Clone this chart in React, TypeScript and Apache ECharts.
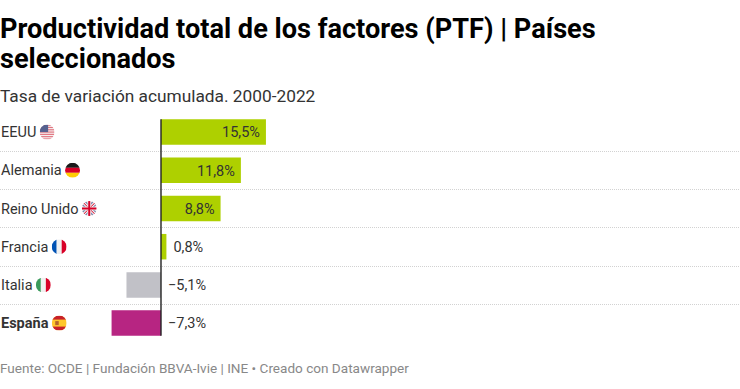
import React, { useEffect, useRef } from "react";
import * as echarts from "echarts";

const titleText = "Productividad total de los factores (PTF) | Países\nseleccionados";
const subtitleText = "Tasa de variación acumulada. 2000-2022";
const footerText = "Fuente: OCDE | Fundación BBVA-Ivie | INE • Creado con Datawrapper";
const categories = ["EEUU", "Alemania", "Reino Unido", "Francia", "Italia", "España"];
const flagKeys = ["us", "de", "uk", "fr", "it", "es"];
const values = [15.5, 11.8, 8.8, 0.8, -5.1, -7.3];
const barColors = ["#aed000", "#aed000", "#aed000", "#aed000", "#c1c1c7", "#b72582"];
const labelsInside = [true, true, true, false, false, false];

const svgUri = (inner: string) =>
  "data:image/svg+xml;charset=utf-8," +
  encodeURIComponent(
    `<svg xmlns="http://www.w3.org/2000/svg" width="60" height="60" viewBox="0 0 30 30"><defs><clipPath id="c"><circle cx="15" cy="15" r="15"/></clipPath></defs><g clip-path="url(#c)">${inner}</g></svg>`
  );

const usStripes = [0, 1, 2, 3, 4, 5, 6]
  .map((i) => `<rect x="0" y="${i * 4.6}" width="30" height="2.3" fill="#e2737f"/>`)
  .join("");

const flags: Record<string, string> = {
  us: svgUri(`<rect width="30" height="30" fill="#f4f0f0"/>${usStripes}<rect width="17" height="15" fill="#56618f"/>`),
  de: svgUri(`<rect width="30" height="10" fill="#1a1a1a"/><rect y="10" width="30" height="10" fill="#d80027"/><rect y="20" width="30" height="10" fill="#ffcd05"/>`),
  uk: svgUri(`<rect width="30" height="30" fill="#f2eeee"/><path d="M0 6L24 30M6 0L30 24M0 24L24 0M6 30L30 6" stroke="#7a86ad" stroke-width="2.5"/><path d="M0 0L30 30M0 30L30 0" stroke="#d80027" stroke-width="2"/><rect x="11.5" width="7" height="30" fill="#f2eeee"/><rect y="11.5" width="30" height="7" fill="#f2eeee"/><rect x="13" width="4" height="30" fill="#d80027"/><rect y="13" width="30" height="4" fill="#d80027"/>`),
  fr: svgUri(`<rect width="10" height="30" fill="#0052b4"/><rect x="10" width="10" height="30" fill="#f0f0f0"/><rect x="20" width="10" height="30" fill="#d80027"/>`),
  it: svgUri(`<rect width="10" height="30" fill="#3a9a5b"/><rect x="10" width="10" height="30" fill="#f0f0f0"/><rect x="20" width="10" height="30" fill="#d80027"/>`),
  es: svgUri(`<rect width="30" height="30" fill="#ffc72c"/><rect width="30" height="8" fill="#c8202a"/><rect y="22" width="30" height="8" fill="#c8202a"/><rect x="7" y="11" width="7" height="8" fill="#b5652a"/>`),
};

const fmt = (v: number) => (v < 0 ? "−" : "") + Math.abs(v).toFixed(1).replace(".", ",") + "%";

const FONT = "Roboto";

export default function App() {
  const ref = useRef<HTMLDivElement>(null);
  useEffect(() => {
    const chart = echarts.init(ref.current!, null, { renderer: "svg" });
    const rich: any = {
      n: { fontFamily: FONT, fontSize: 14.5, color: "#333", padding: [1, 0, 0, 0] },
      b: { fontFamily: FONT, fontSize: 14.5, color: "#333", fontWeight: "bold", padding: [1, 0, 0, 0] },
    };
    flagKeys.forEach((k) => {
      rich[k] = { width: 15, height: 15, backgroundColor: { image: flags[k] } };
    });
    chart.setOption({
      animation: false,
      backgroundColor: "#fff",
      title: [
        { text: titleText, left: 0, top: 14, padding: 0, textStyle: { fontFamily: FONT, fontSize: 27.15, fontWeight: "bold", color: "#000", lineHeight: 30 } },
        { text: subtitleText, left: 0, top: 87, padding: 0, textStyle: { fontFamily: FONT, fontSize: 17.3, fontWeight: "normal", color: "#333" } },
        { text: footerText, left: 0, top: 361, padding: 0, textStyle: { fontFamily: FONT, fontSize: 13.57, fontWeight: "normal", color: "#888" } },
      ],
      grid: { left: 0, width: 740, top: 113, height: 229.2, outerBoundsMode: "none" },
      xAxis: { type: "value", min: -23.78, max: 85.52, show: false },
      yAxis: {
        type: "category",
        inverse: true,
        data: categories,
        axisLine: { show: false },
        axisTick: { show: false },
        splitLine: { show: true, showMinLine: false, showMaxLine: false, lineStyle: { color: "#d2d2d2", type: [1, 1], width: 1 } },
        axisLabel: {
          inside: true,
          margin: 1,
          align: "left",
          formatter: (v: string, i: number) => `{${i === 5 ? "b" : "n"}|${v}} {${flagKeys[i]}|}`,
          rich,
        },
      },
      series: [
        {
          type: "bar",
          barWidth: 25.5,
          data: values.map((v, i) => ({
            value: v,
            itemStyle: { color: barColors[i] },
            label: labelsInside[i]
              ? { show: true, position: "insideRight", distance: 6, offset: [0, 0.8] }
              : { show: true, position: "right", distance: 7, offset: [0, 0.8] },
          })),
          label: {
            fontFamily: FONT,
            fontSize: 14.5,
            color: "#333",
            formatter: (p: any) => fmt(p.value),
          },
          z: 2,
        },
        {
          type: "custom",
          z: 5,
          silent: true,
          data: [[0]],
          encode: { x: 0 },
          renderItem: (_: any, api: any) => {
            const x = api.coord([0, 0])[0];
            const y0 = api.coord([0, 0])[1] - 25.5 / 2;
            const y1 = api.coord([0, categories.length - 1])[1] + 25.5 / 2;
            return {
              type: "line",
              shape: { x1: x, y1: y0, x2: x, y2: y1 },
              style: { stroke: "#222", lineWidth: 1.4 },
            };
          },
        },
      ],
    });
    return () => chart.dispose();
  }, []);
  return <div ref={ref} style={{ position: "absolute", left: 0, top: 0, width: 740, height: 389 }} />;
}
